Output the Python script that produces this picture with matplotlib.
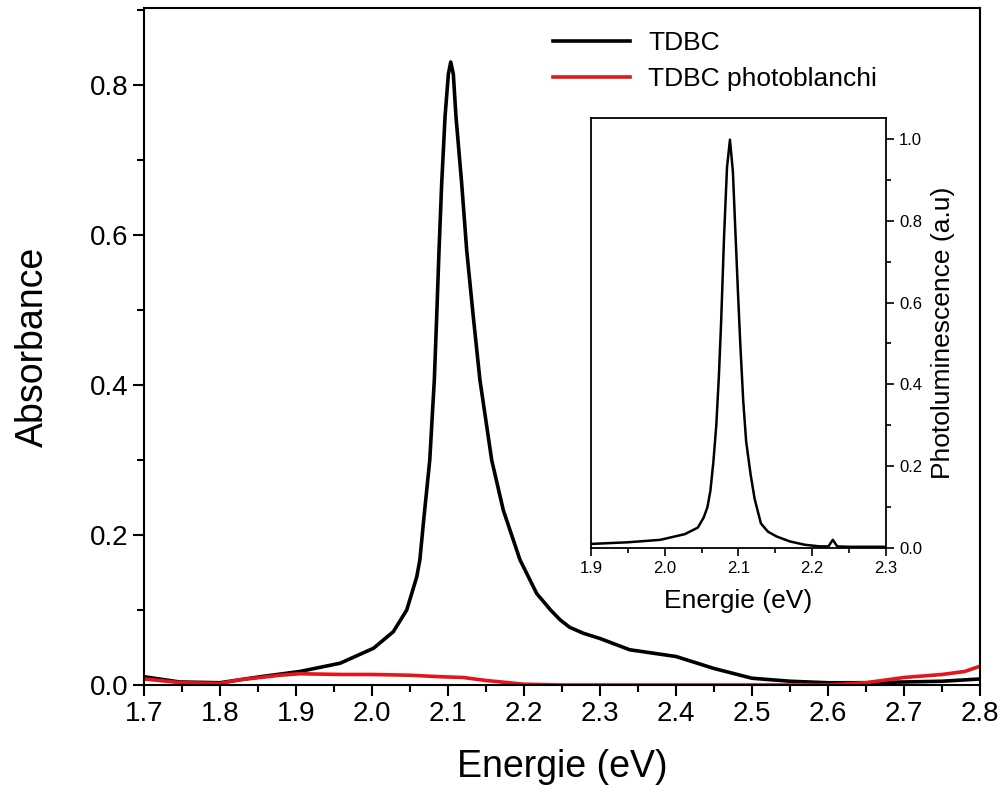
import numpy as np
import matplotlib.pyplot as plt
from matplotlib.ticker import MultipleLocator

plt.rcParams['font.family'] = ['Liberation Sans', 'DejaVu Sans']

# absorbance, TDBC
e_tdbc = [1.70, 1.72, 1.747, 1.80, 1.853, 1.905, 1.958, 2.002, 2.028, 2.0457, 2.0588,
          2.063, 2.068, 2.076, 2.082, 2.0851, 2.0882, 2.0917, 2.0961, 2.1005, 2.1036,
          2.107, 2.1105, 2.118, 2.1246, 2.1333, 2.142, 2.1575, 2.1728, 2.1947, 2.2167,
          2.235, 2.2474, 2.26, 2.278, 2.30, 2.339, 2.40, 2.45, 2.50, 2.55, 2.60, 2.65,
          2.70, 2.75, 2.80]
a_tdbc = [0.011, 0.008, 0.004, 0.003, 0.011, 0.018, 0.029, 0.049, 0.071, 0.100, 0.144,
          0.167, 0.220, 0.300, 0.407, 0.491, 0.580, 0.669, 0.758, 0.815, 0.831,
          0.815, 0.758, 0.669, 0.580, 0.491, 0.407, 0.300, 0.233, 0.167, 0.122,
          0.100, 0.087, 0.077, 0.069, 0.062, 0.047, 0.038, 0.022, 0.009, 0.005, 0.003, 0.003,
          0.004, 0.005, 0.008]

# absorbance, photobleached TDBC
e_pb = [1.70, 1.75, 1.80, 1.826, 1.853, 1.879, 1.905, 1.96, 2.00, 2.05, 2.09, 2.12,
        2.15, 2.18, 2.20, 2.25, 2.40, 2.60, 2.65, 2.70, 2.75, 2.78, 2.80]
a_pb = [0.008, 0.003, 0.002, 0.007, 0.010, 0.013, 0.015, 0.014, 0.014, 0.013, 0.011, 0.010,
        0.006, 0.003, 0.001, 0.000, 0.000, 0.000, 0.003, 0.010, 0.014, 0.018, 0.025]

# photoluminescence (inset)
e_pl = [1.90, 1.95, 1.994, 2.0275, 2.045, 2.053, 2.058, 2.062, 2.066, 2.070, 2.0735,
        2.0765, 2.0805, 2.0845, 2.0885, 2.0925, 2.0955, 2.0995, 2.1025, 2.1065, 2.1105,
        2.1165, 2.122, 2.1305, 2.140, 2.152, 2.170, 2.190, 2.210, 2.222, 2.228, 2.234,
        2.25, 2.30]
pl = [0.010, 0.014, 0.020, 0.034, 0.050, 0.075, 0.100, 0.140, 0.210, 0.300, 0.420,
      0.550, 0.760, 0.930, 0.998, 0.920, 0.790, 0.620, 0.500, 0.360, 0.260,
      0.180, 0.120, 0.060, 0.040, 0.028, 0.016, 0.008, 0.004, 0.004, 0.020, 0.004,
      0.003, 0.003]

fig = plt.figure(figsize=(10.05, 7.94), dpi=100)
ax = fig.add_axes([0.1433, 0.1373, 0.8318, 0.8526])

ax.plot(e_tdbc, a_tdbc, color='black', lw=2.6, label='TDBC')
ax.plot(e_pb, a_pb, color='#e3161c', lw=2.6, label='TDBC photoblanchi')

ax.set_xlim(1.7, 2.8)
ax.set_ylim(0, 0.903)
ax.xaxis.set_major_locator(MultipleLocator(0.1))
ax.xaxis.set_minor_locator(MultipleLocator(0.05))
ax.yaxis.set_major_locator(MultipleLocator(0.2))
ax.yaxis.set_minor_locator(MultipleLocator(0.1))
ax.tick_params(which='both', direction='out', width=1.5, labelsize=20)
ax.tick_params(which='major', length=8)
ax.tick_params(which='minor', length=5)
for s in ax.spines.values():
    s.set_linewidth(1.5)
ax.set_xlabel('Energie (eV)', fontsize=27, labelpad=16)
ax.set_ylabel('Absorbance', fontsize=27, labelpad=28)

ax.legend(loc='upper left', bbox_to_anchor=(540 / 1005, 1 - 18 / 794),
          bbox_transform=fig.transFigure, frameon=False, borderpad=0,
          handlelength=2.9, handletextpad=0.7, labelspacing=0.45, fontsize=19)

# inset
ins = fig.add_axes([0.588, 0.3098, 0.2935, 0.5416])
ins.plot(e_pl, pl, color='black', lw=1.8)
ins.set_xlim(1.9, 2.3)
ins.set_ylim(0, 1.051)
ins.xaxis.set_major_locator(MultipleLocator(0.1))
ins.xaxis.set_minor_locator(MultipleLocator(0.05))
ins.yaxis.set_major_locator(MultipleLocator(0.2))
ins.yaxis.set_minor_locator(MultipleLocator(0.1))
ins.yaxis.tick_right()
ins.yaxis.set_label_position('right')
ins.tick_params(which='both', direction='out', width=1.2, labelsize=12)
ins.tick_params(which='major', length=6)
ins.tick_params(which='minor', length=3.5)
for s in ins.spines.values():
    s.set_linewidth(1.3)
ins.set_xlabel('Energie (eV)', fontsize=19, labelpad=9)
ins.set_ylabel('Photoluminescence (a.u)', fontsize=19, labelpad=6)

fig.savefig('out.png', dpi=100)
